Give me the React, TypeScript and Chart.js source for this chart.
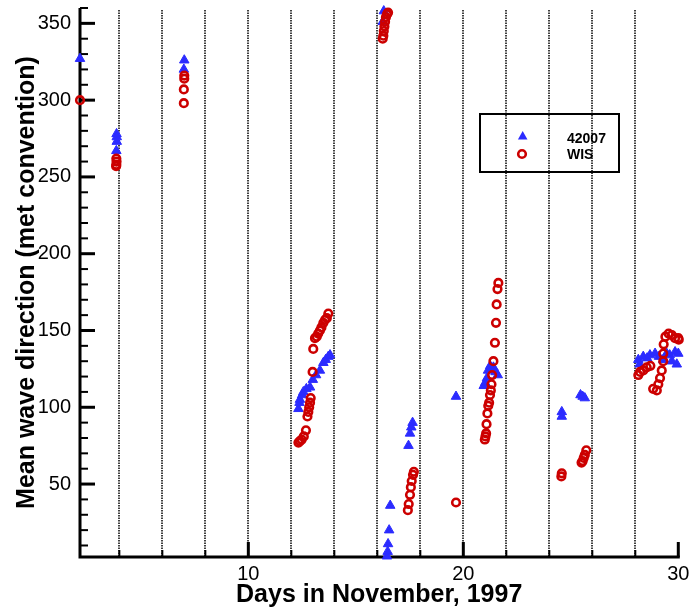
import React, { useEffect, useRef } from "react";
import { Chart, registerables } from "chart.js";

Chart.register(...registerables);

// ---- Data ----
const buoyDays = [
  2.17,
  3.87, 3.88, 3.88, 3.86,
  7.02, 7.0,
  12.33, 12.38, 12.4, 12.5, 12.56, 12.7, 12.87, 13.0, 13.15, 13.33, 13.49, 13.6, 13.72, 13.8,
  16.3, 16.25,
  16.45, 16.48, 16.5, 16.55, 16.6,
  17.45, 17.52, 17.58, 17.64,
  19.66,
  20.95, 21.02, 21.1, 21.15, 21.25, 21.4, 21.5, 21.6,
  24.58, 24.58,
  25.45, 25.55, 25.65,
  28.14, 28.2, 28.37, 28.55, 28.68, 28.92, 29.1, 29.3, 29.46, 29.6, 29.7, 29.85, 29.93, 30.0,
];
const buoyDir = [
  327,
  278, 276, 273, 267,
  326, 320,
  99, 103, 105, 108, 110, 112, 113, 118, 121, 124, 129, 131, 133, 134,
  358, 351,
  3, 6, 11, 20, 36,
  75, 83, 87, 90,
  107,
  114, 116, 119, 124, 127, 126, 123, 121,
  97, 94,
  108, 107, 106,
  131, 128, 133, 132, 134, 135, 133, 131, 135, 134, 130, 136, 128, 135,
];

const wisDays = [
  2.17,
  3.86, 3.87, 3.86, 3.85,
  7.02, 7.02, 7.0, 7.0,
  12.33, 12.4, 12.48, 12.58, 12.68, 12.75, 12.79, 12.83, 12.87, 12.9, 12.99, 13.02, 13.1, 13.18, 13.25, 13.33, 13.4, 13.49, 13.57, 13.65, 13.72,
  16.25, 16.28, 16.3, 16.33, 16.36, 16.4, 16.45, 16.5,
  17.42, 17.46, 17.52, 17.56, 17.6, 17.66, 17.7,
  19.66,
  21.0, 21.03, 21.06, 21.08, 21.12, 21.16, 21.2, 21.24, 21.28, 21.31, 21.34, 21.4, 21.47, 21.52, 21.55, 21.59, 21.63,
  24.58, 24.56,
  25.5, 25.55, 25.6, 25.65, 25.72,
  28.14, 28.22, 28.37, 28.53, 28.7, 28.83, 29.0, 29.07, 29.15, 29.23, 29.3, 29.3, 29.32, 29.4, 29.55, 29.7, 29.85, 30.0, 30.02,
];
const wisDir = [
  300,
  262, 260, 258, 257,
  316, 314, 307, 298,
  77, 78, 79, 81, 85, 94, 97, 100, 103, 106, 123, 138, 145, 146, 148, 150, 152, 155, 157, 158, 161,
  340, 342, 345, 348, 351, 354, 356, 357,
  33, 37, 43, 48, 52, 56, 58,
  38,
  79, 81, 83, 89, 96, 101, 103, 108, 111, 115, 121, 130, 142, 155, 167, 177, 181,
  57, 55,
  64, 65, 67, 69, 72,
  121, 123, 124, 126, 127, 112, 111, 115, 119, 124, 130, 135, 141, 146, 148, 147, 145, 145, 144,
];

const xTickValues = [10, 20, 30];
const yTickValues = [50, 100, 150, 200, 250, 300, 350];
const gridDays = [4, 6, 8, 10, 12, 14, 16, 18, 20, 22, 24, 26, 28];
const xRange = [2.17, 30];
const yRange = [2.5, 360];

const seriesNames = ["42007", "WIS"];
const xTitle = "Days in November, 1997";
const yTitle = "Mean wave direction (met convention)";

const BLUE = "#2b2bff";
const RED = "#cc0000";

const framePlugin = {
  id: "frame",
  beforeDatasetsDraw(chart: any) {
    const { ctx, chartArea: a, scales } = chart;
    const x = scales.x;
    const y = scales.y;
    ctx.save();

    // dotted vertical grid lines
    ctx.strokeStyle = "#000";
    ctx.lineWidth = 1.5;
    ctx.setLineDash([1.4, 1.1]);
    for (const d of gridDays) {
      const px = Math.round(x.getPixelForValue(d));
      ctx.beginPath();
      ctx.moveTo(px, a.top + 2);
      ctx.lineTo(px, a.bottom);
      ctx.stroke();
    }
    ctx.setLineDash([]);

    // y ticks (inward)
    for (let v = 10; v <= 360; v += 10) {
      const py = y.getPixelForValue(v);
      const major = v % 50 === 0;
      ctx.lineWidth = major ? 3 : 2;
      ctx.beginPath();
      ctx.moveTo(a.left, py);
      ctx.lineTo(a.left + (major ? 15 : 8), py);
      ctx.stroke();
    }
    // x ticks (inward)
    for (let d = 4; d <= 30; d += 2) {
      const px = x.getPixelForValue(d);
      const major = d % 10 === 0;
      ctx.lineWidth = major ? 3 : 2;
      ctx.beginPath();
      ctx.moveTo(px, a.bottom);
      ctx.lineTo(px, a.bottom - (major ? 15 : 7));
      ctx.stroke();
    }

    // axis lines
    ctx.lineWidth = 3;
    ctx.beginPath();
    ctx.moveTo(a.left, a.top);
    ctx.lineTo(a.left, a.bottom);
    ctx.lineTo(a.right + 1.5, a.bottom);
    ctx.stroke();

    // titles
    ctx.fillStyle = "#000";
    ctx.font = "bold 25px 'Liberation Sans', Arial, sans-serif";
    ctx.textAlign = "center";
    ctx.textBaseline = "alphabetic";
    ctx.fillText(xTitle, (a.left + a.right) / 2, 602);
    ctx.save();
    ctx.translate(34, (a.top + a.bottom) / 2);
    ctx.rotate(-Math.PI / 2);
    ctx.fillText(yTitle, 0, 0);
    ctx.restore();

    // legend
    ctx.lineWidth = 2;
    ctx.strokeRect(480, 114, 139, 58);
    ctx.fillStyle = BLUE;
    ctx.beginPath();
    ctx.moveTo(522.7, 131);
    ctx.lineTo(527.5, 139.5);
    ctx.lineTo(517.9, 139.5);
    ctx.closePath();
    ctx.fill();
    ctx.strokeStyle = RED;
    ctx.lineWidth = 2.6;
    ctx.beginPath();
    ctx.arc(522, 154, 3.8, 0, Math.PI * 2);
    ctx.stroke();
    ctx.fillStyle = "#000";
    ctx.font = "bold 14px 'Liberation Sans', Arial, sans-serif";
    ctx.textAlign = "left";
    ctx.fillText(seriesNames[0], 567, 143);
    ctx.fillText(seriesNames[1], 567, 159);

    ctx.restore();
  },
};

export default function App() {
  const ref = useRef<HTMLCanvasElement | null>(null);

  useEffect(() => {
    if (!ref.current) return;
    const chart = new Chart(ref.current, {
      type: "scatter",
      data: {
        datasets: [
          {
            label: seriesNames[0],
            data: buoyDays.map((d, i) => ({ x: d, y: buoyDir[i] })),
            pointStyle: "triangle",
            pointRadius: 5.5,
            pointBorderWidth: 1,
            pointBackgroundColor: BLUE,
            pointBorderColor: BLUE,
            showLine: false,
            clip: false as any,
            order: 1,
          },
          {
            label: seriesNames[1],
            data: wisDays.map((d, i) => ({ x: d, y: wisDir[i] })),
            pointStyle: "circle",
            pointRadius: 3.8,
            pointBorderWidth: 2.6,
            pointBackgroundColor: "rgba(0,0,0,0)",
            pointBorderColor: RED,
            showLine: false,
            clip: false as any,
            order: 0,
          },
        ],
      },
      options: {
        responsive: false,
        animation: false,
        events: [],
        layout: { padding: { left: 0, right: 14.7, top: 8, bottom: 0 } },
        plugins: { legend: { display: false }, tooltip: { enabled: false } },
        scales: {
          x: {
            type: "linear",
            min: xRange[0],
            max: xRange[1],
            grid: { display: false, drawTicks: false },
            border: { display: false },
            afterBuildTicks: (s: any) => {
              s.ticks = xTickValues.map((v) => ({ value: v }));
            },
            afterFit: (s: any) => {
              s.height = 57;
              s.paddingLeft = 0;
              s.paddingRight = 0;
              s.paddingTop = 0;
              s.paddingBottom = 0;
            },
            ticks: {
              color: "#000",
              font: { family: "'Liberation Sans', Arial, sans-serif", size: 20 },
              padding: 5,
              maxRotation: 0,
            },
          },
          y: {
            type: "linear",
            min: yRange[0],
            max: yRange[1],
            grid: { display: false, drawTicks: false },
            border: { display: false },
            afterBuildTicks: (s: any) => {
              s.ticks = yTickValues.map((v) => ({ value: v }));
            },
            afterFit: (s: any) => {
              s.width = 80;
              s.paddingLeft = 0;
              s.paddingRight = 0;
              s.paddingTop = 0;
              s.paddingBottom = 0;
            },
            ticks: {
              color: "#000",
              font: { family: "'Liberation Sans', Arial, sans-serif", size: 20 },
              padding: 9,
            },
          },
        },
      },
      plugins: [framePlugin],
    });
    return () => chart.destroy();
  }, []);

  return (
    <div style={{ position: "absolute", left: 0, top: 0, width: 693, height: 614, background: "#fff" }}>
      <canvas ref={ref} width={693} height={614} />
    </div>
  );
}
